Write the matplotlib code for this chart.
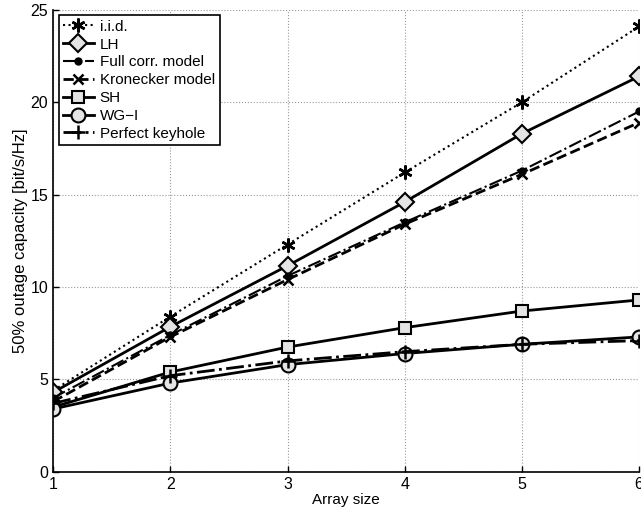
import numpy as np
import matplotlib
matplotlib.use("Agg")
import matplotlib.pyplot as plt

plt.rcParams['font.family'] = ['Liberation Sans', 'DejaVu Sans']

array_size = [1, 2, 3, 4, 5, 6]

iid = [4.4, 8.4, 12.3, 16.2, 20.0, 24.1]
lh = [4.3, 7.85, 11.15, 14.6, 18.3, 21.4]
full_corr = [4.0, 7.4, 10.6, 13.5, 16.3, 19.5]
kronecker = [3.8, 7.3, 10.4, 13.4, 16.1, 18.9]
sh = [3.5, 5.4, 6.75, 7.8, 8.7, 9.3]
wg1 = [3.4, 4.8, 5.8, 6.4, 6.9, 7.3]
keyhole = [3.7, 5.2, 6.0, 6.5, 6.9, 7.1]

face = '#e4e4e4'
asterisk = (6, 2, 0)

fig = plt.figure(figsize=(6.41, 5.19), dpi=100)
ax = fig.add_axes([0.083, 0.091, 0.914, 0.89])

ax.plot(array_size, iid, color='k', linestyle=':', lw=1.5, marker=asterisk,
        markersize=10, markeredgewidth=1.8, label='i.i.d.')
ax.plot(array_size, lh, color='k', linestyle='-', lw=2, marker='D',
        markersize=9, markerfacecolor=face, markeredgewidth=1.5, label='LH')
ax.plot(array_size, full_corr, color='k', linestyle='-.', lw=1.5, marker='o',
        markersize=5, label='Full corr. model')
ax.plot(array_size, kronecker, color='k', linestyle='--', lw=2, marker='x',
        markersize=6.5, markeredgewidth=1.8, label='Kronecker model')
ax.plot(array_size, sh, color='k', linestyle='-', lw=2, marker='s',
        markersize=9, markerfacecolor=face, markeredgewidth=1.5, label='SH')
ax.plot(array_size, wg1, color='k', linestyle='-', lw=2, marker='o',
        markersize=10, markerfacecolor=face, markeredgewidth=1.5, label='WG\u2212I')
ax.plot(array_size, keyhole, color='k', linestyle='-.', lw=2, marker='+',
        markersize=10, markeredgewidth=1.8, label='Perfect keyhole')

ax.set_xlim(1, 6)
ax.set_ylim(0, 25)
ax.set_xticks(array_size)
ax.set_yticks([0, 5, 10, 15, 20, 25])
ax.tick_params(direction='in', labelsize=11.5, length=4, width=1)
ax.grid(True, linestyle=':', color='#999999', lw=0.8)
ax.spines['top'].set_visible(False)
ax.spines['right'].set_visible(False)
for s in ['left', 'bottom']:
    ax.spines[s].set_linewidth(1.2)

ax.set_xlabel('Array size', fontsize=11, labelpad=1)
ax.set_ylabel('50% outage capacity [bit/s/Hz]', fontsize=12, labelpad=2)

leg = ax.legend(loc='upper left', fontsize=11, fancybox=False, framealpha=1,
                edgecolor='k', handlelength=2.0, handletextpad=0.4,
                labelspacing=0.25, borderpad=0.3, borderaxespad=0.35)
leg.get_frame().set_linewidth(1.2)

fig.savefig('out.png', dpi=100)
